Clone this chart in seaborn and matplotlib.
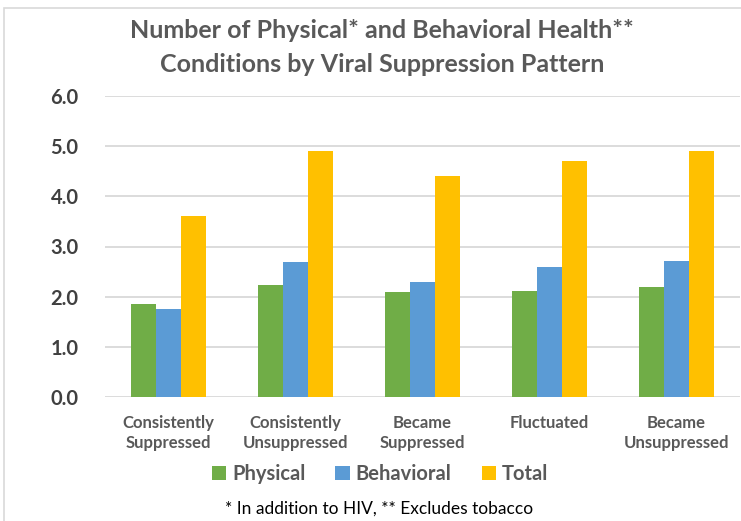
import matplotlib
matplotlib.use("Agg")
import matplotlib.pyplot as plt
from matplotlib.patches import Rectangle
import seaborn as sns
import pandas as pd

# Data: average number of conditions per viral suppression pattern
categories = ["Consistently\nSuppressed", "Consistently\nUnsuppressed",
              "Became\nSuppressed", "Fluctuated", "Became\nUnsuppressed"]
physical = [1.85, 2.23, 2.10, 2.12, 2.19]
behavioral = [1.75, 2.70, 2.30, 2.59, 2.71]
total = [3.60, 4.90, 4.40, 4.70, 4.90]
series_names = ["Physical", "Behavioral", "Total"]
yticks = [0.0, 1.0, 2.0, 3.0, 4.0, 5.0, 6.0]

colors = ["#70AD47", "#5B9BD5", "#FFC000"]

df = pd.DataFrame({
    "Pattern": categories * 3,
    "Series": [series_names[0]] * 5 + [series_names[1]] * 5 + [series_names[2]] * 5,
    "Value": physical + behavioral + total,
})

sns.set_theme(style="white")
plt.rcParams["font.family"] = ["Lato", "DejaVu Sans"]

W, H = 741, 521
fig = plt.figure(figsize=(W / 100, H / 100), dpi=100)
ax = fig.add_axes([105 / W, 1 - 397 / H, 635 / W, 301 / H])

sns.barplot(data=df, x="Pattern", y="Value", hue="Series", order=categories,
            hue_order=series_names, palette=colors, width=0.59, gap=0,
            saturation=1, linewidth=0, ax=ax, legend=True, zorder=3)

ax.set_ylim(0, 6)
ax.set_xlim(-0.5, 4.5)
ax.set_yticks(yticks)
ax.set_yticklabels([f"{v:.1f}" for v in yticks], fontsize=14.5, fontweight="bold",
                   color="#404040")
ax.yaxis.grid(True, color="#D9D9D9", linewidth=1.3, zorder=0)
ax.set_axisbelow(True)
ax.tick_params(axis="y", length=0, pad=19)
ax.tick_params(axis="x", length=0, pad=13)
for lbl in ax.get_xticklabels():
    lbl.set_fontsize(12)
    lbl.set_fontweight("bold")
    lbl.set_color("#595959")
    lbl.set_linespacing(1.3)
ax.set_xlabel("")
ax.set_ylabel("")
for s in ax.spines.values():
    s.set_visible(False)

leg = ax.legend(loc="center", bbox_to_anchor=(380 / W, 1 - 474 / H),
                bbox_transform=fig.transFigure, ncol=3, frameon=False,
                handlelength=0.7, handleheight=0.7, handletextpad=0.3,
                columnspacing=1.5, prop={"size": 14.5, "weight": "bold"})
for t in leg.get_texts():
    t.set_color("#595959")

fig.text(382 / W, 1 - 31 / H, "Number of Physical* and Behavioral Health**",
         ha="center", va="center", fontsize=18, fontweight="bold", color="#595959")
fig.text(382 / W, 1 - 64 / H, "Conditions by Viral Suppression Pattern",
         ha="center", va="center", fontsize=18, fontweight="bold", color="#595959")
fig.text(379 / W, 1 - 509 / H, "* In addition to HIV, ** Excludes tobacco",
         ha="center", va="center", fontsize=12.5, color="#000000")

# Chart area border
fig.add_artist(Rectangle((4 / W, -0.05), 1.0, 1 - 8 / H + 0.05,
                         transform=fig.transFigure, fill=False,
                         edgecolor="#D9D9D9", linewidth=1.2))

fig.savefig("out.png", dpi=100)
